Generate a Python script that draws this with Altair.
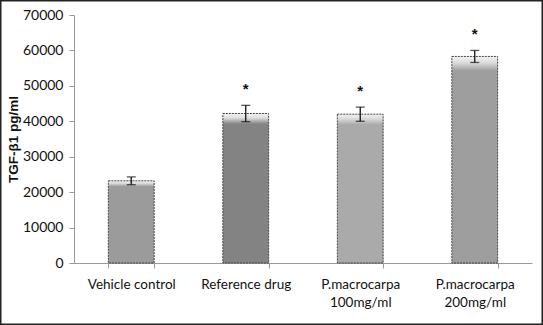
import altair as alt
import pandas as pd

categories = ["Vehicle control", "Reference drug", "P.macrocarpa\n100mg/ml", "P.macrocarpa\n200mg/ml"]
means = [23200, 42200, 42000, 58300]
errors = [1100, 2300, 2000, 1700]
stars = ["", "*", "*", "*"]
fills = ["#9b9b9b", "#838383", "#aaaaaa", "#9e9e9e"]
y_ticks = [0, 10000, 20000, 30000, 40000, 50000, 60000, 70000]

df = pd.DataFrame({
    "cat": categories,
    "mean": means,
    "err": errors,
    "star": stars,
})
df["low"] = df["mean"] - df["err"]
df["high"] = df["mean"] + df["err"]

W, H = 458, 248
FONT = "Lato"

x_axis = alt.Axis(labelExpr="split(datum.label, '\\n')", labelAngle=0,
                  labelFont=FONT, labelFontSize=13.5, labelColor="#111",
                  labelPadding=9, labelLineHeight=18,
                  tickBand="extent", tickSize=5, tickColor="#999",
                  domainColor="#999")
x_scale = alt.Scale(paddingInner=0.6, paddingOuter=0.3)
y_scale = alt.Scale(domain=[0, 70000], nice=False)
y_axis = alt.Axis(values=y_ticks, grid=False, format="d", labelOverlap=False,
                  labelFont=FONT, labelFontSize=14, labelColor="#111",
                  tickSize=5, tickColor="#999", domainColor="#999",
                  labelPadding=6, titleFont="Liberation Sans",
                  titleFontSize=13.5, titleFontWeight="bold",
                  titlePadding=2, titleColor="#111")
TITLE = "TGF-β1 pg/ml"


def X():
    return alt.X("cat:N", sort=categories, title=None, scale=x_scale, axis=x_axis)


def Y(field):
    return alt.Y(field, scale=y_scale, title=TITLE, axis=y_axis)


base = alt.Chart(df)

bar_layers = []
for c, f in zip(categories, fills):
    bar_layers.append(
        base.transform_filter(alt.datum.cat == c).mark_bar(
            color=alt.Gradient(gradient="linear", x1=0, y1=0, x2=0, y2=1,
                               stops=[alt.GradientStop(offset=0, color="#f2f2f2"),
                                      alt.GradientStop(offset=0.03, color="#dcdcdc"),
                                      alt.GradientStop(offset=0.07, color=f),
                                      alt.GradientStop(offset=1, color=f)]),
            stroke="#444", strokeDash=[2, 1], strokeWidth=1,
        ).encode(x=X(), y=Y("mean:Q"))
    )

rule = base.mark_rule(color="#111", strokeWidth=1.3).encode(
    x=X(), y=Y("low:Q"), y2="high:Q")
cap_hi = base.mark_tick(color="#111", thickness=1.3, size=9).encode(
    x=X(), y=Y("high:Q"))
cap_lo = base.mark_tick(color="#111", thickness=1.3, size=9).encode(
    x=X(), y=Y("low:Q"))
star = base.mark_text(font="Liberation Sans", fontSize=15, fontWeight="bold",
                      dy=-8, baseline="bottom", color="#111").encode(
    x=X(), y=Y("high:Q"), text="star:N")

frame = alt.Chart(pd.DataFrame({"a": [0]})).mark_rect(
    fill=None, stroke="#222", strokeWidth=1.5).encode(
    x=alt.value(-73.25), x2=alt.value(W + 10.25),
    y=alt.value(-14.25), y2=alt.value(H + 61.25))

chart = alt.layer(*bar_layers, rule, cap_hi, cap_lo, star, frame).properties(
    width=W, height=H,
    autosize=alt.AutoSizeParams(type="none"),
    padding={"left": 74, "top": 15, "right": 11, "bottom": 62},
    background="white",
).configure_view(stroke=None)

chart.save("out.html", embed_options={"renderer": "svg", "actions": False})
